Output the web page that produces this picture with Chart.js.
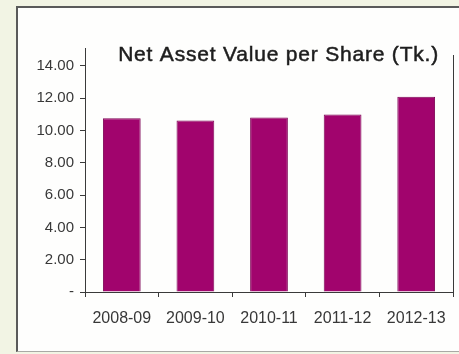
<!DOCTYPE html>
<html>
<head>
<meta charset="utf-8">
<script src="https://cdn.jsdelivr.net/npm/chart.js@4/dist/chart.umd.min.js"></script>
<style>
  html, body { margin: 0; padding: 0; width: 459px; height: 354px; overflow: hidden; background: #f2f4e4; }
  #frame {
    position: absolute; left: 16px; top: 6px; width: 460px; height: 343px;
    background: #fefefd;
    border-left: 2px solid #5a5a5a; border-top: 2px solid #5a5a5a; border-bottom: 1px solid #a9a9a5;
  }
  #wrap { position: absolute; left: 0; top: 0; width: 459px; height: 354px; }
</style>
</head>
<body>
<div id="frame"></div>
<div id="wrap"><canvas id="c" width="459" height="354"></canvas></div>
<script>
// Net asset value per share by financial year (Tk.)
const years = ['2008-09', '2009-10', '2010-11', '2011-12', '2012-13'];
const navPerShare = [10.76, 10.62, 10.80, 10.98, 12.08];
const yTickValues = [0, 2, 4, 6, 8, 10, 12, 14];
const chartTitle = 'Net Asset Value per Share (Tk.)';

const FONT = '"Liberation Sans", Arial, Helvetica, sans-serif';
const AXIS = '#3a3a3a';

// Title sits inside the plot frame, plus the right-hand frame line
const framePlugin = {
  id: 'frameAndTitle',
  afterDraw(chart) {
    const { ctx, chartArea: ca } = chart;
    ctx.save();
    ctx.strokeStyle = AXIS;
    ctx.lineWidth = 1;
    ctx.beginPath();
    ctx.moveTo(Math.round(ca.right) + 0.5, ca.top + 7);
    ctx.lineTo(Math.round(ca.right) + 0.5, ca.bottom);
    ctx.stroke();

    ctx.fillStyle = '#1e1e1e';
    ctx.strokeStyle = '#1e1e1e';
    ctx.lineWidth = 0.5;
    ctx.font = '21px ' + FONT;
    if ('letterSpacing' in ctx) ctx.letterSpacing = '0.8px';
    ctx.textAlign = 'right';
    ctx.textBaseline = 'alphabetic';
    const tx = ca.right - 14, ty = ca.top + 13;
    ctx.fillText(chartTitle, tx, ty);
    ctx.strokeText(chartTitle, tx, ty);
    ctx.restore();
  }
};

new Chart(document.getElementById('c'), {
  type: 'bar',
  data: {
    labels: years,
    datasets: [{
      data: navPerShare,
      backgroundColor: '#a1046d',
      borderColor: '#7e0656',
      borderWidth: 1,
      barPercentage: 0.9,
      categoryPercentage: 0.57
    }]
  },
  options: {
    responsive: false,
    animation: false,
    devicePixelRatio: 1,
    layout: { padding: { left: 0, right: 6, top: 48, bottom: 30 } },
    plugins: { legend: { display: false }, tooltip: { enabled: false }, title: { display: false } },
    scales: {
      x: {
        offset: true,
        grid: { display: true, drawOnChartArea: false, drawTicks: true, tickLength: 5, color: AXIS, offset: true },
        border: { display: true, color: AXIS, width: 1 },
        ticks: { color: '#383838', font: { family: FONT, size: 16 }, padding: 12, maxRotation: 0, autoSkip: false },
        afterFit(scale) { scale.height = 32; }
      },
      y: {
        min: 0,
        max: 15.1,
        afterBuildTicks(scale) { scale.ticks = yTickValues.map(v => ({ value: v })); },
        grid: { display: true, drawOnChartArea: false, drawTicks: true, tickLength: 5, color: AXIS },
        border: { display: true, color: AXIS, width: 1 },
        ticks: {
          color: '#383838',
          font: { family: FONT, size: 15 },
          padding: 6,
          callback: v => v === 0 ? '-' : Number(v).toFixed(2)
        },
        afterFit(scale) { scale.width = 85; }
      }
    }
  },
  plugins: [framePlugin]
});
</script>
</body>
</html>
